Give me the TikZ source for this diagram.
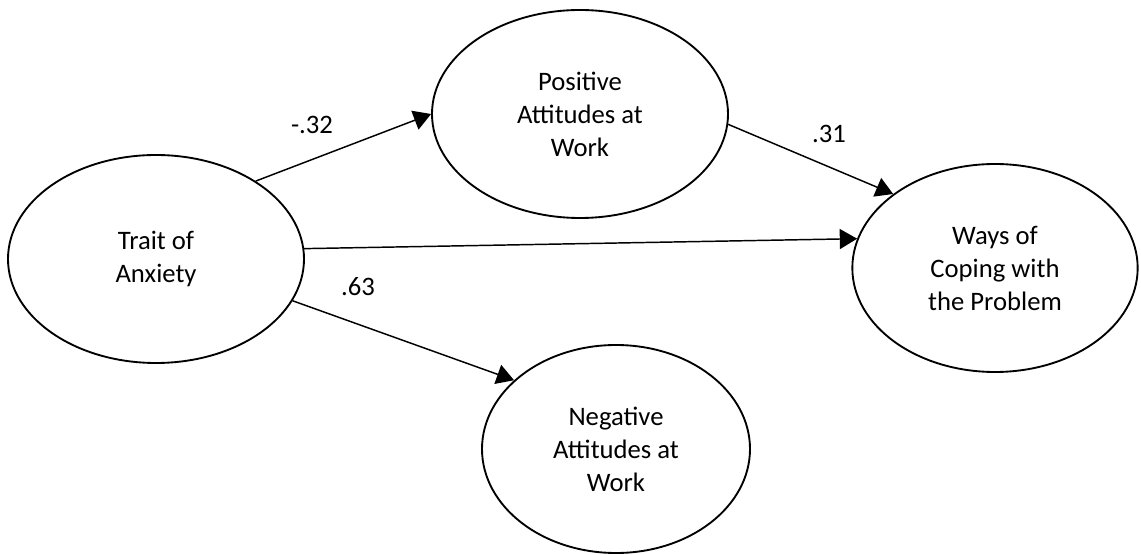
\documentclass[tikz,border=0pt]{standalone}
\usepackage{fontspec}
\setmainfont{Carlito}
\usetikzlibrary{shapes.geometric,arrows.meta}
\begin{document}
\begin{tikzpicture}[x=0.75pt,y=-0.75pt,
  latent/.style={draw,ellipse,line width=1.4pt,inner sep=0pt,align=center,
    font=\fontsize{20}{24.75}\selectfont},
  path/.style={line width=1.1pt,-{Triangle[length=13pt,width=15pt]}},
  coef/.style={font=\fontsize{20}{24}\selectfont}]
\useasboundingbox (0,0) rectangle (1141,555);
\node[latent,minimum width=222pt,minimum height=156pt] (trait) at (156,259) {Trait of\\Anxiety};
\node[latent,minimum width=222pt,minimum height=156pt] (pos) at (580,114) {Positive\\Attitudes at\\Work};
\node[latent,minimum width=214pt,minimum height=156pt] (ways) at (995,268) {Ways of\\Coping with\\the Problem};
\node[latent,minimum width=201pt,minimum height=156pt] (neg) at (616,449) {Negative\\Attitudes at\\Work};
\draw[path] (trait.38.7) -- (pos.180.4);
\draw[path] (pos.-4) -- (ways.144.4);
\draw[path] (trait.4.6) -- (ways.168.5);
\draw[path] (trait.-17.3) -- (neg.146.8);
\node[coef] (c1) at (312,125) {-.32};
\node[coef] (c2) at (829,134) {.31};
\node[coef] (c3) at (358,287) {.63};
\end{tikzpicture}
\end{document}
